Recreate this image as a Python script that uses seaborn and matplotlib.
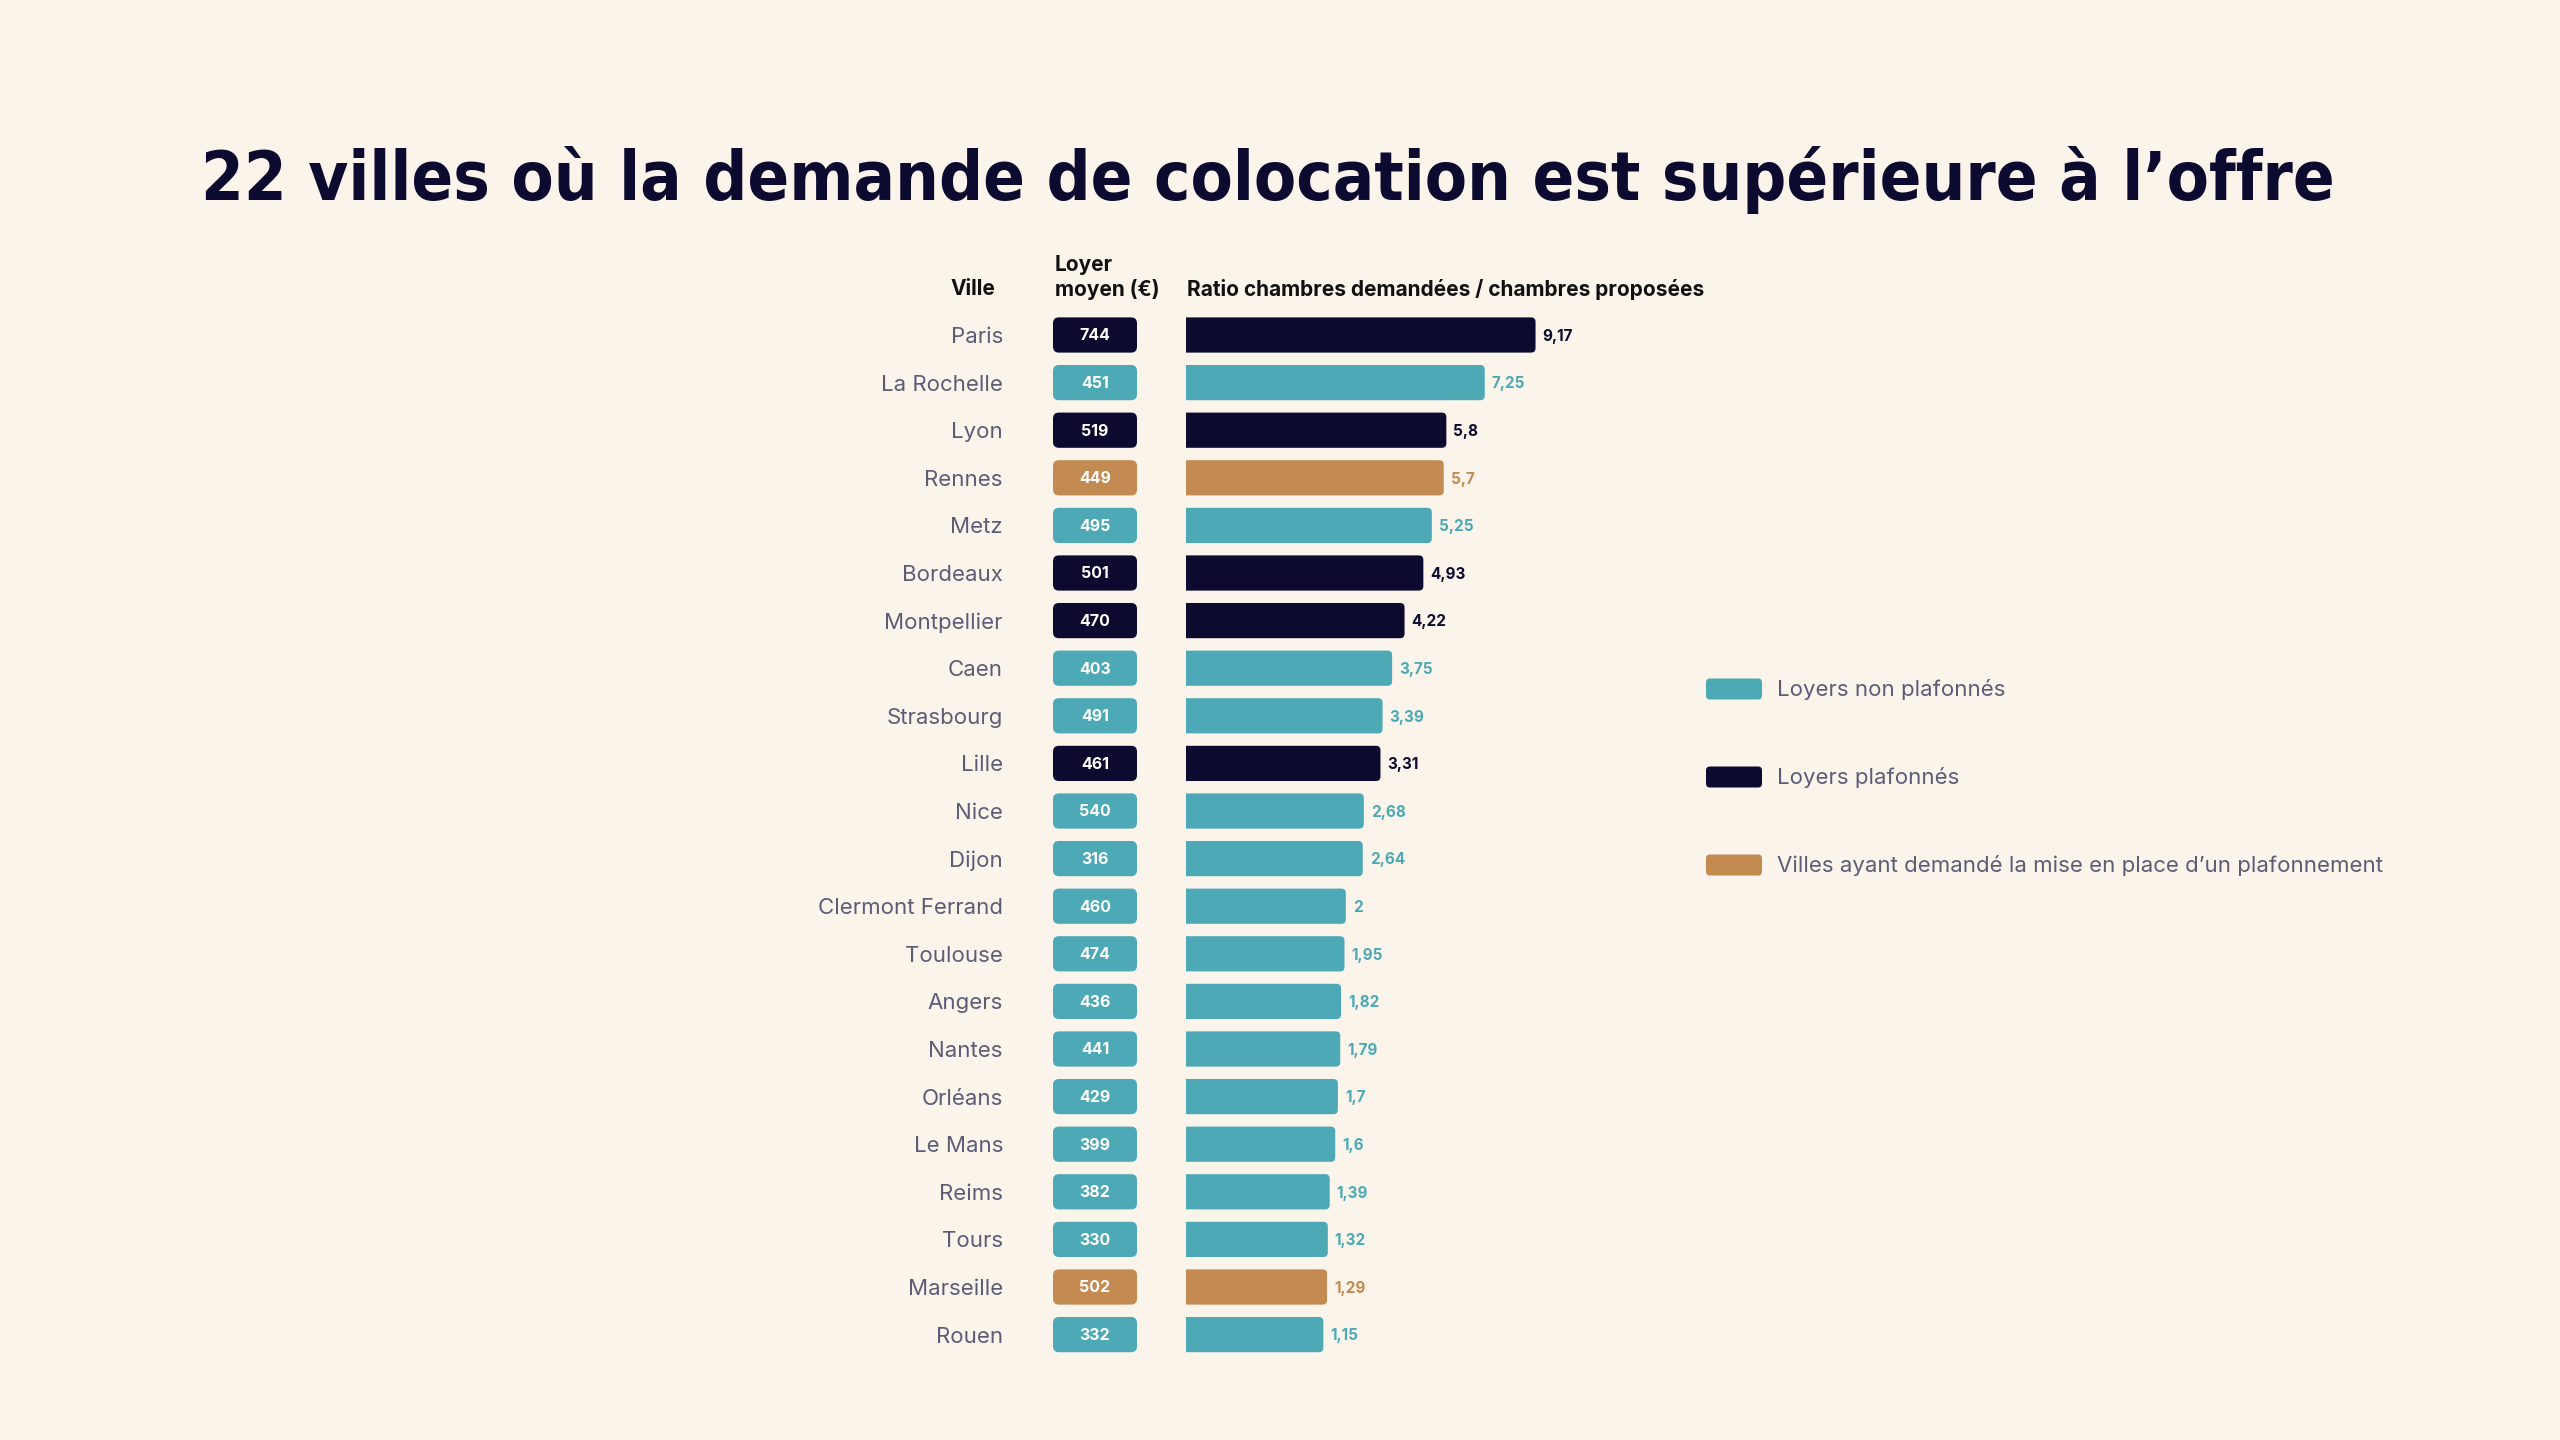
import numpy as np
import pandas as pd
import matplotlib
matplotlib.use("Agg")
import matplotlib.pyplot as plt
import seaborn as sns
from matplotlib import font_manager
from matplotlib.patches import FancyBboxPatch

# ---------------- data ----------------
villes = ["Paris", "La Rochelle", "Lyon", "Rennes", "Metz", "Bordeaux", "Montpellier",
          "Caen", "Strasbourg", "Lille", "Nice", "Dijon", "Clermont Ferrand", "Toulouse",
          "Angers", "Nantes", "Orléans", "Le Mans", "Reims", "Tours", "Marseille", "Rouen"]
loyers = [744, 451, 519, 449, 495, 501, 470, 403, 491, 461, 540, 316, 460, 474,
          436, 441, 429, 399, 382, 330, 502, 332]
ratios = [9.17, 7.25, 5.8, 5.7, 5.25, 4.93, 4.22, 3.75, 3.39, 3.31, 2.68, 2.64, 2.0, 1.95,
          1.82, 1.79, 1.7, 1.6, 1.39, 1.32, 1.29, 1.15]
groupes = ["plafonne", "non", "plafonne", "demande", "non", "plafonne", "plafonne",
           "non", "non", "plafonne", "non", "non", "non", "non",
           "non", "non", "non", "non", "non", "non", "demande", "non"]
legende = {"non": "Loyers non plafonnés",
           "plafonne": "Loyers plafonnés",
           "demande": "Villes ayant demandé la mise en place d\u2019un plafonnement"}
titre = "22 villes où la demande de colocation est supérieure à l\u2019offre"

df = pd.DataFrame({"ville": villes, "loyer": loyers, "ratio": ratios, "groupe": groupes})

# ---------------- style ----------------
BG = "#FBF4EB"
TEAL = "#4CA9B5"
DARK = "#0C0A2F"
ORANGE = "#C38A52"
GREY = "#5C5C77"
couleurs = {"non": TEAL, "plafonne": DARK, "demande": ORANGE}

sns.set_theme(style="white")
plt.rcParams["font.family"] = ["Inter", "DejaVu Sans"]
plt.rcParams["figure.facecolor"] = BG
plt.rcParams["axes.facecolor"] = "none"

W, H = 2560, 1440
fig = plt.figure(figsize=(W / 100, H / 100), dpi=100)

# geometrie des lignes (pixels)
row_top, row_step = 335, 47.6
n = len(villes)
y_top = row_top - row_step / 2
ax_h = n * row_step

def fig_rect(x0, x1):
    return [x0 / W, 1 - (y_top + ax_h) / H, (x1 - x0) / W, ax_h / H]

# ---------------- barres du ratio ----------------
px_per_unit = 26.46
axis_min = -4.04          # l'axe commence avant zero
rx0, rx1 = 1186, 1760
ax_r = fig.add_axes(fig_rect(rx0, rx1))
sns.barplot(data=df, y="ville", x="ratio", hue="groupe", palette=couleurs,
            dodge=False, width=0.74, saturation=1, legend=False, ax=ax_r)
ax_r.set_xlim(axis_min, axis_min + (rx1 - rx0) / px_per_unit)
ax_r.set_ylim(n - 0.5, -0.5)
for p in list(ax_r.patches):
    y, h, w = p.get_y(), p.get_height(), p.get_width()
    fc = p.get_facecolor()
    p.remove()
    ax_r.add_patch(FancyBboxPatch((axis_min - 1, y), w - axis_min + 1, h,
                                  boxstyle="round,pad=0,rounding_size=0.17",
                                  mutation_aspect=px_per_unit / row_step,
                                  fc=fc, ec="none", clip_on=True))
for i, (v, g) in enumerate(zip(ratios, groupes)):
    ax_r.annotate(f"{v:g}".replace(".", ","), (v, i), xytext=(5, -1), textcoords="offset points",
                  ha="left", va="center", fontsize=11, fontweight="bold", color=couleurs[g])
ax_r.axis("off")

# ---------------- loyers ----------------
lx0, lx1 = 1053, 1137
ax_l = fig.add_axes(fig_rect(lx0, lx1))
ax_l.set_xlim(0, 1)
ax_l.set_ylim(n - 0.5, -0.5)
box_h = 0.74
for i, (l, g) in enumerate(zip(loyers, groupes)):
    ax_l.add_patch(FancyBboxPatch((0, i - box_h / 2), 1, box_h,
                                  boxstyle="round,pad=0,rounding_size=0.07",
                                  mutation_aspect=(lx1 - lx0) / row_step,
                                  fc=couleurs[g], ec="none"))
    ax_l.text(0.5, i + 0.02, str(l), ha="center", va="center", fontsize=11.5,
              fontweight="bold", color="white")
ax_l.set_yticks(range(n))
ax_l.set_yticklabels(villes, fontsize=16, color=GREY)
ax_l.tick_params(axis="y", length=0, pad=36)
ax_l.set_xticks([])
for s in ax_l.spines.values():
    s.set_visible(False)

# ---------------- titre, en-tetes, legende ----------------
ax_o = fig.add_axes([0, 0, 1, 1], zorder=-1)
ax_o.set_xlim(0, W)
ax_o.set_ylim(H, 0)
ax_o.axis("off")

# police condensee si disponible
titre_fp = None
for f in font_manager.fontManager.ttflist:
    nm = f.name.lower()
    if ("condensed" in nm or "narrow" in nm or "condensed" in str(f.stretch)) and \
            str(f.weight) in ("bold", "700", "heavy", "800", "black", "900"):
        titre_fp = font_manager.FontProperties(fname=f.fname)
        break
if titre_fp is None:
    titre_fp = font_manager.FontProperties(family="Roboto", weight="bold")
titre_fp.set_size(60)
t = ax_o.text(1268, 200, titre, ha="center", va="baseline", fontproperties=titre_fp, color=DARK)
fig.canvas.draw()
tw = t.get_window_extent().width
titre_fp.set_size(60 * 2134 / tw)
t.set_fontproperties(titre_fp)

hdr = dict(fontsize=15, fontweight="bold", color="#111111", va="center")
ax_o.text(995, 289, "Ville", ha="right", **hdr)
ax_o.text(1055, 265, "Loyer", ha="left", **hdr)
ax_o.text(1055, 289, "moyen (€)", ha="left", **hdr)
ax_o.text(1187, 289, "Ratio chambres demandées / chambres proposées", ha="left", **hdr)

for k, yy in zip(["non", "plafonne", "demande"], [689, 777, 865]):
    ax_o.add_patch(FancyBboxPatch((1706, yy - 10.5), 56, 21,
                                  boxstyle="round,pad=0,rounding_size=4",
                                  fc=couleurs[k], ec="none"))
    ax_o.text(1777, yy, legende[k], ha="left", va="center", fontsize=16, color=GREY)

fig.savefig("out.png", dpi=100, facecolor=BG)
